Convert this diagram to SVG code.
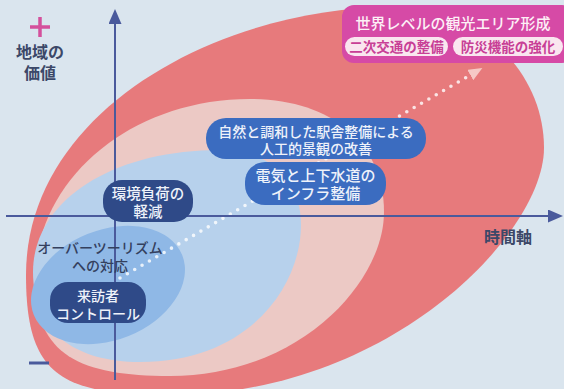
<svg xmlns="http://www.w3.org/2000/svg" width="564" height="389" viewBox="0 0 564 389">
<defs>
<style>
.t{font-family:"Noto Sans CJK JP","Noto Sans CJK SC",sans-serif;text-anchor:middle}
.wl{fill:#eef2fa;font-weight:500}
.dk{fill:#2f4a88}
.md{fill:#3b6cc0}
.ax{stroke:#4a5a9c;stroke-width:2;fill:none}
.axt{fill:#3c4868;font-weight:700;font-size:16px}
.pill{fill:#fae6ef}
.pt{fill:#c83f96;font-weight:700;font-size:13.5px}
</style>
<marker id="axHead" viewBox="0 0 15 13" refX="1" refY="6.5" markerWidth="15" markerHeight="13" markerUnits="userSpaceOnUse" orient="auto">
<path d="M0,0 L15,6.5 L0,13 Z" fill="#4a5a9c"/>
</marker>
<marker id="dotHead" viewBox="0 0 14 12" refX="2" refY="6" markerWidth="14" markerHeight="12" markerUnits="userSpaceOnUse" orient="auto">
<path d="M0,0 L14,6 L0,12 Z" fill="#f6c9c6"/>
</marker>
</defs>
<rect width="564" height="389" fill="#dae5ee"/>
<g id="regions">
<path id="region-world" d="M26,275 C26,110 220,7 395,7 C477,7 544,70 544,148 C544,233 390,395 170,395 C60,395 26,375 26,275 Z" fill="#e77a7c"/>
<path id="region-infra" d="M35,280 C35,180 130,99 250,99 C330,99 384,142 384,212 C384,282 300,376 170,376 C80,376 35,355 35,280 Z" fill="#ecc9c5"/>
<path id="region-env" d="M33,272 C33,202 110,150 220,150 C270,150 301,180 301,225 C301,285 250,362 140,362 C75,362 33,332 33,272 Z" fill="#b7d1ec"/>
<ellipse id="region-over" cx="108" cy="285" rx="80" ry="55" transform="rotate(-22 108 285)" fill="#8fb8e6"/>
</g>
<g id="connectors">
<line x1="120" y1="278" x2="472" y2="74" stroke="#ffffff" stroke-opacity="0.8" stroke-width="3.6" stroke-linecap="round" stroke-dasharray="0 8.5" marker-end="url(#dotHead)"/>
<line class="ax" x1="115" y1="380" x2="115" y2="23" marker-end="url(#axHead)"/>
<line class="ax" x1="6" y1="216" x2="549" y2="216" marker-end="url(#axHead)"/>
</g>
<g id="axis-labels">
<path d="M30,27 H50 M40,17 V37" stroke="#d4509c" stroke-width="3.5" fill="none"/>
<text class="t axt" x="40" y="58">地域の</text>
<text class="t axt" x="40" y="79">価値</text>
<path d="M29,363 H49" stroke="#4a5a9c" stroke-width="3" fill="none"/>
<text class="t axt" x="508" y="243">時間軸</text>
</g>
<g id="node-overtourism">
<text class="t" x="100" y="253" font-size="14" font-weight="500" fill="#34405e">オーバーツーリズム</text>
<text class="t" x="100" y="271" font-size="14" font-weight="500" fill="#34405e">への対応</text>
</g>
<g id="node-env">
<rect class="dk" x="103" y="180" width="90" height="42" rx="19"/>
<text class="t wl" x="148" y="199" font-size="14.5">環境負荷の</text>
<text class="t wl" x="148" y="217" font-size="14.5">軽減</text>
</g>
<g id="node-visitor">
<rect class="dk" x="50" y="282" width="96" height="41" rx="18"/>
<text class="t wl" x="98" y="301" font-size="14">来訪者</text>
<text class="t wl" x="98" y="319" font-size="14">コントロール</text>
</g>
<g id="node-station">
<rect class="md" x="206" y="118" width="220" height="41" rx="20"/>
<text class="t wl" x="316" y="136.5" font-size="14">自然と調和した駅舎整備による</text>
<text class="t wl" x="316" y="154" font-size="14">人工的景観の改善</text>
</g>
<g id="node-infra">
<rect class="md" x="245" y="162" width="141" height="43" rx="20"/>
<text class="t wl" x="315.5" y="181" font-size="15">電気と上下水道の</text>
<text class="t wl" x="315.5" y="199" font-size="15">インフラ整備</text>
</g>
<g id="node-world">
<rect x="342" y="5" width="232" height="58" rx="12" fill="#d64aa6"/>
<text class="t" x="453" y="29" font-size="15" font-weight="500" fill="#fdf0f6">世界レベルの観光エリア形成</text>
<rect class="pill" x="345" y="37" width="103" height="19" rx="9.5"/>
<text class="t pt" x="396.5" y="51.5">二次交通の整備</text>
<rect class="pill" x="453" y="37" width="110" height="19" rx="9.5"/>
<text class="t pt" x="508" y="51.5">防災機能の強化</text>
</g>
</svg>
